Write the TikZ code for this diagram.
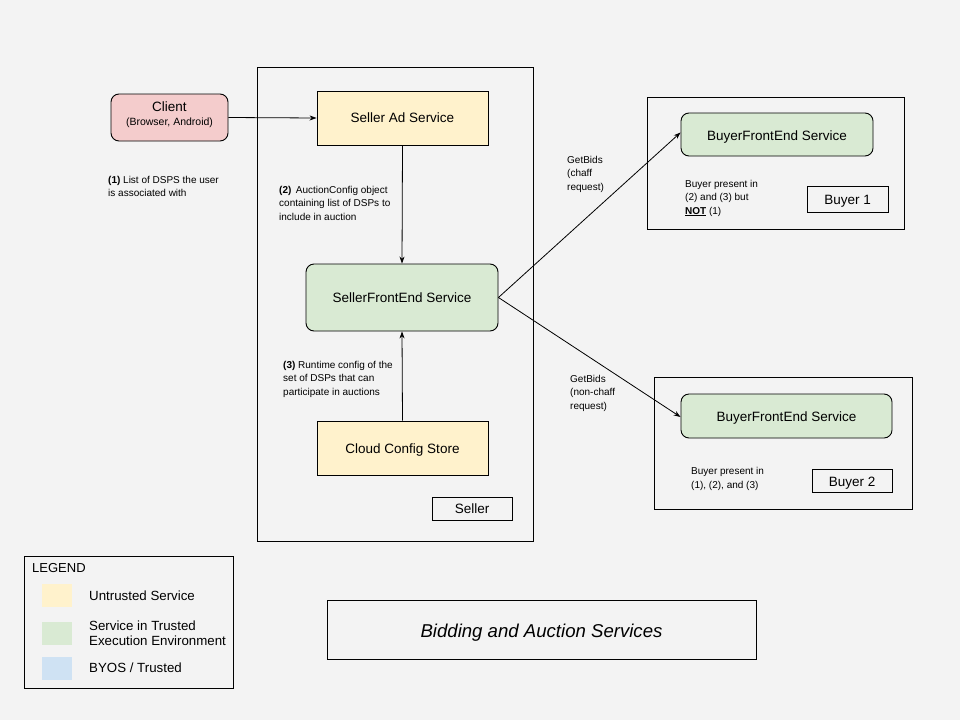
\documentclass[tikz,border=0pt]{standalone}
\usepackage{fontspec}
\setmainfont{Liberation Sans}
\usetikzlibrary{arrows.meta}
\definecolor{bg}{HTML}{F3F3F3}
\definecolor{pinkf}{HTML}{F4CCCC}
\definecolor{yelf}{HTML}{FFF2CC}
\definecolor{grnf}{HTML}{D9EAD3}
\definecolor{bluf}{HTML}{CFE2F3}
\newcommand{\shiftdn}[2]{\raisebox{-#1}[\height][\depth]{#2}}
\tikzset{
  box/.style={draw=black, line width=0.9pt, inner sep=0pt},
  svc/.style={box, font=\fontsize{13.5}{15}\selectfont, align=center},
  rsvc/.style={svc, rounded corners=8pt},
  lbl/.style={font=\fontsize{10}{13.3}\selectfont, align=left, anchor=north west, inner sep=0pt},
  arr/.style={-{Stealth[length=7pt,width=5pt]}, line width=0.8pt},
  swatch/.style={inner sep=0pt, minimum width=30pt, minimum height=23pt},
  legtxt/.style={font=\fontsize{13.3}{15}\selectfont, anchor=west, inner sep=0pt, align=left}
}
\begin{document}
\begin{tikzpicture}[x=1pt,y=-1pt]
\fill[bg] (0,0) rectangle (960,720);
\useasboundingbox (0,0) rectangle (960,720);
% Seller container
\node[box, minimum width=276pt, minimum height=474pt, anchor=north west] (seller) at (257,67) {};
\node[box, minimum width=80pt, minimum height=23pt, font=\fontsize{13.5}{15}\selectfont] (sellerlbl) at (472,508.5) {Seller};
% Client
\node[rsvc, fill=pinkf, minimum width=117pt, minimum height=47pt] (client) at (169.5,117.5) {\shiftdn{-3pt}{Client}\\[-1pt]{\fontsize{10.5}{12}\selectfont\shiftdn{-3pt}{(Browser, Android)}}};
% Seller services
\node[svc, fill=yelf, minimum width=171pt, minimum height=54pt] (ad) at (402.5,118) {Seller Ad Service};
\node[rsvc, fill=grnf, minimum width=192pt, minimum height=67pt] (sfe) at (402,297.5) {SellerFrontEnd Service};
\node[svc, fill=yelf, minimum width=171pt, minimum height=54pt] (ccs) at (402.5,448) {\shiftdn{2pt}{Cloud Config Store}};
% Buyer 1
\node[box, minimum width=257pt, minimum height=132pt, anchor=north west] (b1) at (647,97) {};
\node[rsvc, fill=grnf, minimum width=192pt, minimum height=43pt] (bfe1) at (777,134.5) {\shiftdn{3pt}{BuyerFrontEnd Service}};
\node[box, minimum width=81pt, minimum height=26pt, font=\fontsize{13.5}{15}\selectfont] (b1lbl) at (847.5,199) {\shiftdn{2pt}{Buyer 1}};
\node[lbl] (b1txt) at (685,180) {Buyer present in\\(2) and (3) but\\\underline{\textbf{NOT}} (1)};
% Buyer 2
\node[box, minimum width=258pt, minimum height=132pt, anchor=north west] (b2) at (654,377) {};
\node[rsvc, fill=grnf, minimum width=211pt, minimum height=44pt] (bfe2) at (786.5,416) {\shiftdn{2pt}{BuyerFrontEnd Service}};
\node[box, minimum width=80pt, minimum height=23pt, font=\fontsize{13.5}{15}\selectfont] (b2lbl) at (852,480.5) {\shiftdn{3pt}{Buyer 2}};
\node[lbl, font=\fontsize{10}{14.5}\selectfont] (b2txt) at (691,467) {Buyer present in\\(1), (2), and (3)};
% labels
\node[lbl] (l1) at (108,176) {\textbf{(1)} List of DSPS the user\\is associated with};
\node[lbl] (l2) at (279,186) {\textbf{(2)}\, AuctionConfig object\\containing list of DSPs to\\include in auction};
\node[lbl] (l3) at (283,361) {\textbf{(3)} Runtime config of the\\set of DSPs that can\\participate in auctions};
\node[lbl] (g1) at (567,156) {GetBids\\(chaff\\request)};
\node[lbl] (g2) at (570,375) {GetBids\\(non-chaff\\request)};
% arrows
\draw[arr] (client.east) -- (ad.west);
\draw[arr] (ad.south) -- (sfe.north);
\draw[arr] (ccs.north) -- (sfe.south);
\draw[arr] (sfe.east) -- ([yshift=2pt]bfe1.west);
\draw[arr] (sfe.east) -- ([yshift=-1pt]bfe2.west);
% Legend
\node[box, minimum width=209pt, minimum height=132pt, anchor=north west] (legend) at (24,556) {};
\node[font=\fontsize{13}{14}\selectfont, anchor=north west, inner sep=0pt] (legt) at (32,563) {LEGEND};
\node[swatch, fill=yelf] (sw1) at (57,595.5) {};
\node[swatch, fill=grnf] (sw2) at (57,633.5) {};
\node[swatch, fill=bluf] (sw3) at (57,668) {};
\node[legtxt] (lt1) at (89,596) {Untrusted Service};
\node[legtxt] (lt2) at (89,633.5) {Service in Trusted\\Execution Environment};
\node[legtxt] (lt3) at (89,668) {BYOS / Trusted};
% Title
\node[box, minimum width=429pt, minimum height=59pt, font=\fontsize{18.6}{20}\selectfont\itshape] (title) at (541.5,629.5) {\shiftdn{3pt}{Bidding and Auction Services}};
\end{tikzpicture}
\end{document}
